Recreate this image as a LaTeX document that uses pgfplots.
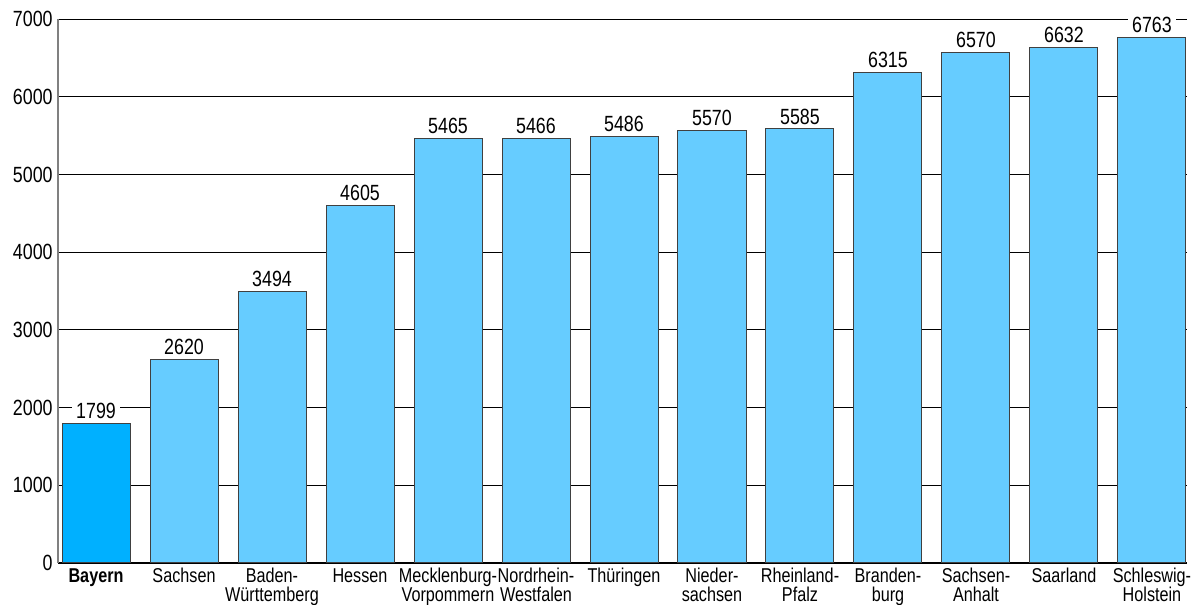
\documentclass[border=0pt]{standalone}
\usepackage{pgfplots}
\pgfplotsset{compat=1.18}
\usepackage{fontspec}
\setmainfont{Liberation Sans}[FakeStretch=0.81]

\definecolor{barlight}{HTML}{66CCFF}
\definecolor{bardark}{HTML}{00B0FF}

\begin{document}
\begin{tikzpicture}
\path[use as bounding box] (-29pt,-21pt) rectangle (571pt,281.5pt);
\begin{axis}[
    scale only axis,
    width=564.5pt,
    height=272pt,
    at={(0,0)}, anchor=south west,
    xmin=-0.432, xmax=12.398,
    ymin=0, ymax=7000,
    ybar, bar width=34pt, bar shift=0pt,
    axis lines=left,
    axis line style={-},
    x axis line style={black, line width=0.7pt},
    y axis line style={black!50, line width=0.7pt},
    ymajorgrids=true,
    grid style={black, line width=0.5pt},
    xtick={0,...,12},
    ytick={0,1000,...,7000},
    major tick length=0pt,
    xticklabels={{\textbf{Bayern}}, Sachsen, {Baden-\\Württemberg}, Hessen,
        {Mecklenburg-\\Vorpommern}, {Nordrhein-\\Westfalen}, Thüringen,
        {Nieder-\\sachsen}, {Rheinland-\\Pfalz}, {Branden-\\burg},
        {Sachsen-\\Anhalt}, Saarland, {Schleswig-\\Holstein}},
    xticklabel style={font=\fontsize{10}{9.5}\selectfont, align=center,
        anchor=north, inner sep=0pt, yshift=-2.5pt},
    yticklabel style={font=\fontsize{11}{11}\selectfont, anchor=east,
        inner sep=0pt, xshift=-2.5pt},
    /pgf/number format/1000 sep={},
    /pgf/number format/assume math mode=true,
    nodes near coords,
    nodes near coords style={font=\fontsize{11}{11}\selectfont,
        fill=white, inner sep=2pt, anchor=south},
]
\addplot[draw=black!75, line width=0.5pt, fill=bardark]
    coordinates {(0,1799)};
\addplot[draw=black!75, line width=0.5pt, fill=barlight]
    coordinates {
        (1,2620)
        (2,3494)
        (3,4605)
        (4,5465)
        (5,5466)
        (6,5486)
        (7,5570)
        (8,5585)
        (9,6315)
        (10,6570)
        (11,6632)
        (12,6763)
    };
\end{axis}
\end{tikzpicture}
\end{document}
